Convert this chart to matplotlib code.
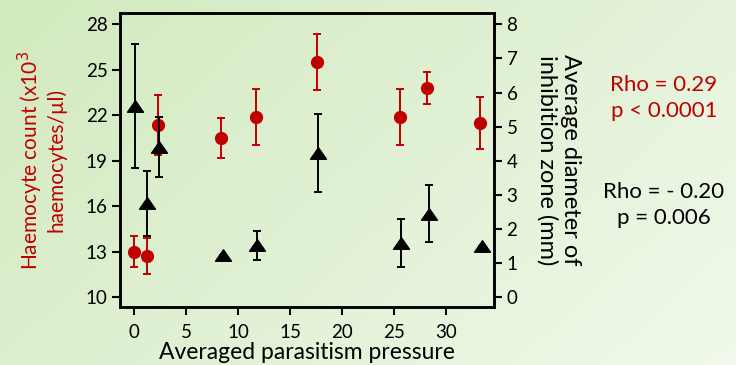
import numpy as np
import matplotlib
matplotlib.use("Agg")
import matplotlib.pyplot as plt
from matplotlib.path import Path

plt.rcParams['font.family'] = ['Lato', 'DejaVu Sans']

# Haemocyte count (left axis, red circles)
hae_x = [0.0, 1.2, 2.3, 8.35, 11.7, 17.6, 25.6, 28.2, 33.3]
hae_y = [13.0, 12.7, 21.35, 20.5, 21.9, 25.5, 21.9, 23.8, 21.5]
hae_err = [1.0, 1.2, 2.0, 1.35, 1.85, 1.85, 1.85, 1.05, 1.7]

# Inhibition zone diameter (right axis, black triangles)
inh_x = [0.05, 1.25, 2.4, 8.55, 11.85, 17.7, 25.7, 28.3, 33.4]
inh_y = [5.6, 2.75, 4.4, 1.23, 1.52, 4.22, 1.58, 2.45, 1.5]
inh_err = [1.82, 0.95, 0.88, 0.0, 0.42, 1.14, 0.71, 0.84, 0.0]

x_ticks = [0, 5, 10, 15, 20, 25, 30]
left_ticks = [10, 13, 16, 19, 22, 25, 28]
right_ticks = [0, 1, 2, 3, 4, 5, 6, 7, 8]

RED = '#C00000'

fig = plt.figure(figsize=(7.36, 3.65), dpi=100)

# gradient background
bg = fig.add_axes([0, 0, 1, 1])
bg.set_axis_off()
h, w = 100, 200
yy, xx = np.mgrid[0:h, 0:w]
t = (xx / w * 0.65 + yy / h * 0.35)
c0 = np.array([210, 233, 190]) / 255.0
c1 = np.array([240, 249, 235]) / 255.0
img = c0[None, None, :] * (1 - t[..., None]) + c1[None, None, :] * t[..., None]
bg.imshow(img, aspect='auto', extent=[0, 1, 0, 1], origin='upper')
bg.set_xlim(0, 1)
bg.set_ylim(0, 1)

W, H = 736, 365
left, right, top, bottom = 120, 494, 13, 307
ax = fig.add_axes([left / W, 1 - bottom / H, (right - left) / W, (bottom - top) / H])
ax.patch.set_alpha(0)
ax2 = ax.twinx()
ax2.patch.set_alpha(0)

ax.errorbar(hae_x, hae_y, yerr=hae_err, fmt='o', color=RED, ecolor=RED,
            markersize=8.5, elinewidth=1.4, capsize=3, capthick=1.4, zorder=3)

tri = Path([(-1.0, -0.72), (1.0, -0.72), (0.0, 0.72), (-1.0, -0.72)],
           [Path.MOVETO, Path.LINETO, Path.LINETO, Path.CLOSEPOLY])
ax2.errorbar(inh_x, inh_y, yerr=inh_err,
             fmt='none', ecolor='black', elinewidth=1.4, capsize=3, capthick=1.4, zorder=3)
ax2.plot(inh_x, inh_y, linestyle='none', marker=tri, color='black', markersize=11.5, zorder=4)

ax.set_xlim(-1.375, 34.6)
ax.set_ylim(9.34, 28.75)
ax2.set_ylim(-0.293, 8.333)

ax.set_xticks(x_ticks)
ax.set_yticks(left_ticks)
ax2.set_yticks(right_ticks)

for a in (ax, ax2):
    for s in a.spines.values():
        s.set_linewidth(1.8)
        s.set_color('black')
    a.tick_params(direction='out', length=6, width=1.5, labelsize=13.5, colors='black', pad=3)

ax.tick_params(axis='x', pad=6)
ax.set_xlabel('Averaged parasitism pressure', fontsize=16.5, labelpad=1)
ax.set_ylabel('Haemocyte count (x10$^3$\nhaemocytes/\u00b5l)', fontsize=15, color=RED,
              labelpad=14, linespacing=1.05)
ax2.set_ylabel('Average diameter of\ninhibition zone (mm)', fontsize=17, color='black',
               rotation=270, labelpad=46, linespacing=1.15)

fig.text(664 / W, 1 - 98 / H, 'Rho = 0.29\np < 0.0001', color=RED, fontsize=16,
         ha='center', va='center', linespacing=1.35)
fig.text(664 / W, 1 - 205 / H, 'Rho = - 0.20\np = 0.006', color='black', fontsize=16,
         ha='center', va='center', linespacing=1.35)

fig.savefig('out.png', dpi=100)
